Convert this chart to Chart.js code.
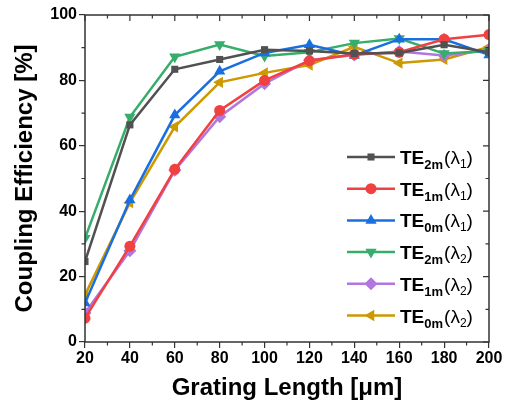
<!DOCTYPE html>
<html>
<head>
<meta charset="utf-8">
<script src="https://cdn.jsdelivr.net/npm/chart.js@4/dist/chart.umd.min.js"></script>
<style>
  html, body { margin: 0; padding: 0; background: #fff; }
  #wrap { width: 507px; height: 407px; }
</style>
</head>
<body>
<div id="wrap"><canvas id="chart" width="507" height="407"></canvas></div>
<script>
// grating lengths in micrometres
const lengths = [20, 40, 60, 80, 100, 120, 140, 160, 180, 200];

// coupling efficiency [%] per mode and wavelength
const te2mL1 = [24.6, 66.4, 83.4, 86.4, 89.4, 89.0, 88.2, 88.4, 90.9, 88.6];
const te1mL1 = [7.3, 29.3, 52.8, 70.8, 80.0, 86.0, 88.0, 88.6, 92.6, 94.0];
const te0mL1 = [11.9, 43.4, 69.4, 82.8, 88.4, 90.9, 87.6, 92.6, 92.6, 87.8];
const te2mL2 = [31.7, 68.8, 87.2, 91.0, 87.5, 88.6, 91.4, 92.8, 88.2, 89.0];
const te1mL2 = [8.9, 27.9, 52.5, 68.9, 79.0, 86.2, 87.8, 88.8, 87.6, 89.2];
const te0mL2 = [14.4, 42.6, 65.8, 79.4, 82.3, 84.7, 90.3, 85.3, 86.4, 90.2];

// legend text pieces: main, subscript, then lambda subscript
const modeNames = ['TE', 'TE', 'TE', 'TE', 'TE', 'TE'];
const modeSubs = ['2m', '1m', '0m', '2m', '1m', '0m'];
const lambdaSubs = ['1', '1', '1', '2', '2', '2'];

const yTicks = [0, 20, 40, 60, 80, 100];

const colors = ['#515151', '#F14040', '#1A6FDF', '#37AD6B', '#B177DE', '#CC9900'];
const shapes = ['rect', 'circle', 'triangle', 'triangle', 'rectRot', 'triangle'];
const rotations = [0, 0, 0, 180, 0, -90];
const radii = [5, 5.5, 6.5, 6.5, 6.5, 6.5];

const seriesList = [te2mL1, te1mL1, te0mL1, te2mL2, te1mL2, te0mL2];

const datasets = seriesList.map((vals, i) => ({
    label: modeNames[i] + modeSubs[i] + '(λ' + lambdaSubs[i] + ')',
    data: vals.map((v, j) => ({ x: lengths[j], y: v })),
    borderColor: colors[i],
    backgroundColor: colors[i],
    borderWidth: 2.5,
    pointStyle: shapes[i],
    rotation: rotations[i],
    pointRadius: radii[i],
    pointBorderWidth: 0,
    tension: 0
}));

const FONT = '"Liberation Sans", Arial, sans-serif';

// frame, mirrored ticks and minor ticks
const framePlugin = {
    id: 'frame',
    afterDraw(chart) {
        const ctx = chart.ctx;
        const a = chart.chartArea;
        const xs = chart.scales.x;
        const ys = chart.scales.y;
        ctx.save();
        ctx.strokeStyle = '#333';
        ctx.lineWidth = 1.5;
        ctx.strokeRect(a.left, a.top, a.right - a.left, a.bottom - a.top);
        ctx.lineWidth = 1.2;
        ctx.beginPath();
        for (let v = 20; v <= 200; v += 10) {
            const px = xs.getPixelForValue(v);
            const major = v % 20 === 0;
            const len = major ? 6 : 3.5;
            ctx.moveTo(px, a.top);
            ctx.lineTo(px, a.top + len);
            if (!major) {
                ctx.moveTo(px, a.bottom);
                ctx.lineTo(px, a.bottom + len);
            }
        }
        for (let v = 0; v <= 100; v += 10) {
            const py = ys.getPixelForValue(v);
            const major = v % 20 === 0;
            const len = major ? 6 : 3.5;
            ctx.moveTo(a.right, py);
            ctx.lineTo(a.right - len, py);
            if (!major) {
                ctx.moveTo(a.left, py);
                ctx.lineTo(a.left - len, py);
            }
        }
        ctx.stroke();
        ctx.restore();
    }
};

// legend with subscripted labels
const legendPlugin = {
    id: 'subLegend',
    afterDatasetsDraw(chart) {
        const ctx = chart.ctx;
        const x0 = 347, x1 = 395, tx = 400;
        const rowY = 157, gap = 31.7;
        ctx.save();
        chart.data.datasets.forEach((ds, i) => {
            const y = rowY + i * gap;
            ctx.strokeStyle = ds.borderColor;
            ctx.lineWidth = 2.5;
            ctx.beginPath();
            ctx.moveTo(x0, y);
            ctx.lineTo(x1, y);
            ctx.stroke();
            ctx.fillStyle = ds.backgroundColor;
            Chart.helpers.drawPoint(ctx, {
                pointStyle: ds.pointStyle,
                rotation: ds.rotation,
                radius: ds.pointRadius,
                borderWidth: 0
            }, (x0 + x1) / 2, y);

            ctx.fillStyle = '#000';
            ctx.textBaseline = 'alphabetic';
            ctx.textAlign = 'left';
            const base = y + 7;
            let x = tx;
            ctx.font = 'bold 19px ' + FONT;
            ctx.fillText(modeNames[i], x, base);
            x += ctx.measureText(modeNames[i]).width;
            ctx.font = 'bold 13px ' + FONT;
            ctx.fillText(modeSubs[i], x, base + 5);
            x += ctx.measureText(modeSubs[i]).width + 1;
            ctx.font = '19px ' + FONT;
            ctx.fillText('(λ', x, base);
            x += ctx.measureText('(λ').width;
            ctx.font = '12px ' + FONT;
            ctx.fillText(lambdaSubs[i], x, base + 4);
            x += ctx.measureText(lambdaSubs[i]).width;
            ctx.font = '19px ' + FONT;
            ctx.fillText(')', x, base);
        });
        ctx.restore();
    }
};

new Chart(document.getElementById('chart'), {
    type: 'line',
    data: { datasets: datasets },
    options: {
        responsive: false,
        animation: false,
        layout: { padding: { left: 0, right: 18, top: 15, bottom: 4 } },
        plugins: { legend: { display: false }, tooltip: { enabled: false } },
        scales: {
            x: {
                type: 'linear',
                min: 20,
                max: 200,
                afterFit(scale) { scale.height = 61; },
                ticks: {
                    stepSize: 20,
                    color: '#000',
                    padding: 1,
                    font: { family: FONT, size: 16, weight: 'bold' }
                },
                grid: { drawOnChartArea: false, tickLength: 6, color: '#333', lineWidth: 1.2 },
                border: { display: false },
                title: {
                    display: true,
                    text: 'Grating Length [μm]',
                    color: '#000',
                    padding: { top: 4, bottom: 0 },
                    font: { family: FONT, size: 24, weight: 'bold' }
                }
            },
            y: {
                min: 0,
                max: 100,
                afterFit(scale) { scale.width = 85; },
                afterBuildTicks(scale) { scale.ticks = yTicks.map(v => ({ value: v })); },
                ticks: {
                    color: '#000',
                    padding: 2,
                    font: { family: FONT, size: 16, weight: 'bold' }
                },
                grid: { drawOnChartArea: false, tickLength: 6, color: '#333', lineWidth: 1.2 },
                border: { display: false },
                title: {
                    display: true,
                    text: 'Coupling Efficiency [%]',
                    color: '#000',
                    padding: { top: 11, bottom: 0 },
                    font: { family: FONT, size: 24, weight: 'bold' }
                }
            }
        }
    },
    plugins: [framePlugin, legendPlugin]
});
</script>
</body>
</html>
